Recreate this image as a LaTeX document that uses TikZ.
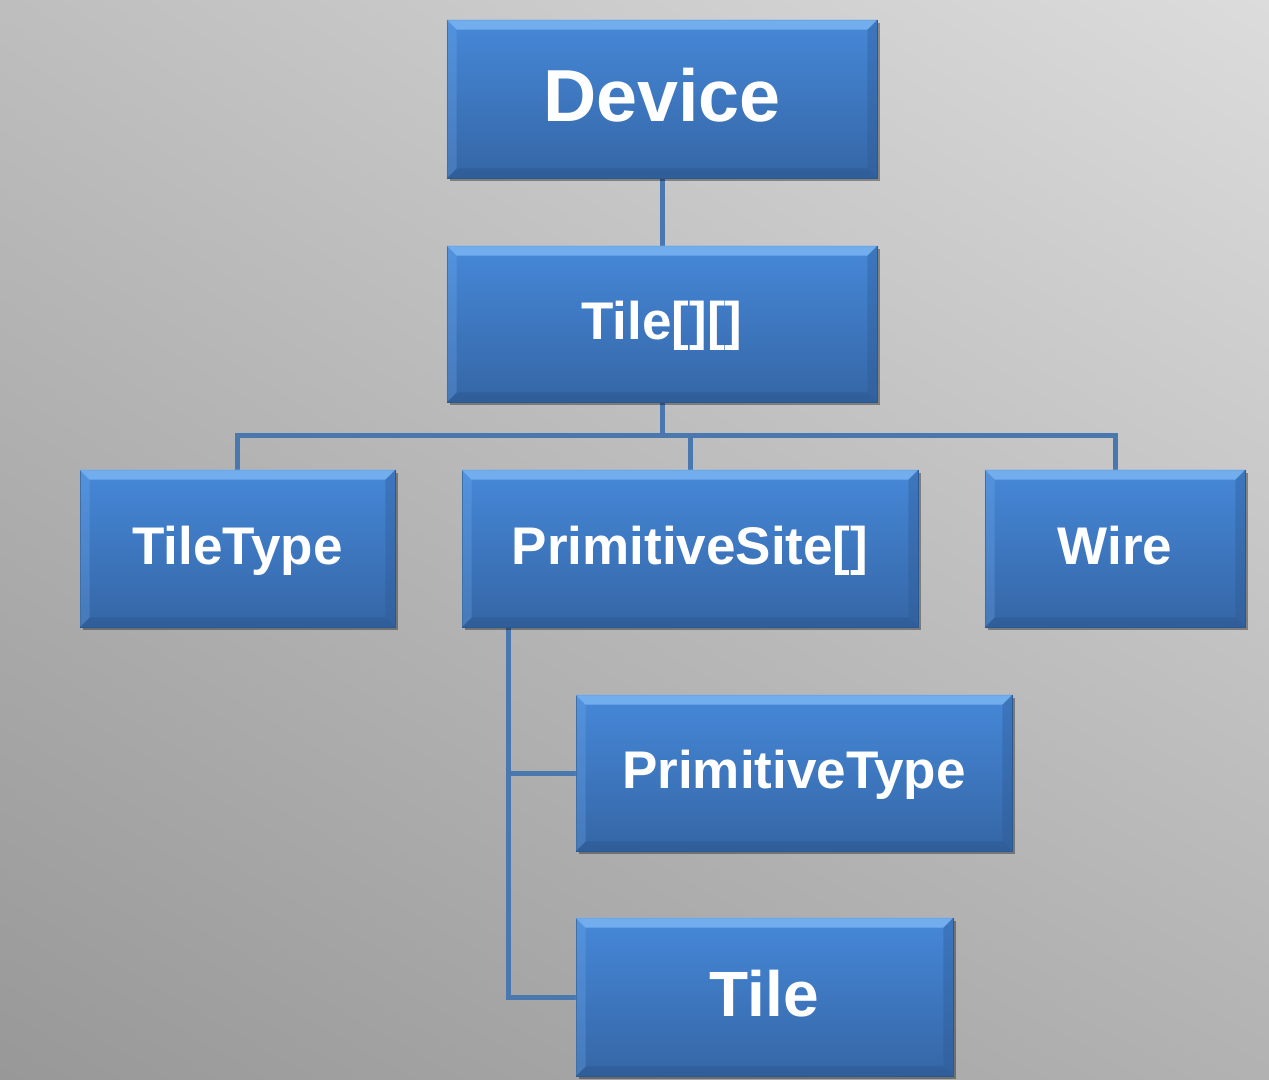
\documentclass[tikz,border=0pt]{standalone}
\usepackage{fontspec}
\setmainfont{Liberation Sans}
\usetikzlibrary{shadows,calc,shadings}
\pgfdeclarelayer{bg}
\pgfdeclarelayer{lines}
\pgfsetlayers{bg,lines,main}
\definecolor{boxtop}{HTML}{4688D8}
\definecolor{boxbot}{HTML}{3566A6}
\definecolor{bevlight}{HTML}{7AB4F2}
\definecolor{bevdark}{HTML}{2C5890}
\definecolor{linecol}{HTML}{4A77AD}
\definecolor{bgul}{HTML}{BEBEBE}
\definecolor{bgur}{HTML}{DCDCDC}
\definecolor{bgll}{HTML}{989898}
\definecolor{bglr}{HTML}{B2B2B2}
\tikzset{
  blockbox/.style={rectangle, inner sep=0pt, top color=boxtop, bottom color=boxbot,
    draw=bevdark, line width=0.6pt, text=white,
    drop shadow={shadow xshift=3pt, shadow yshift=-3pt, opacity=0.35, fill=black}},
  bigtext/.style={font=\bfseries\fontsize{73.7}{80}\selectfont, text height=53.1pt, text depth=8.8pt},
  midtext/.style={font=\bfseries\fontsize{53}{60}\selectfont, text height=38.2pt, text depth=6.4pt},
  tiletext/.style={font=\bfseries\fontsize{64}{72}\selectfont, text height=46.1pt, text depth=7.7pt},
  conn/.style={draw=linecol, line width=5pt},
}
\newcommand{\bevelit}[1]{%
  \fill[bevlight, opacity=0.85] (#1.north west) -- (#1.north east) -- ([shift={(-10,10)}]#1.north east) -- ([shift={(10,10)}]#1.north west) -- cycle;
  \fill[bevdark, opacity=0.55] (#1.south west) -- (#1.south east) -- ([shift={(-10,-10)}]#1.south east) -- ([shift={(10,-10)}]#1.south west) -- cycle;
  \fill[bevlight, opacity=0.25] (#1.north west) -- ([shift={(10,10)}]#1.north west) -- ([shift={(10,-10)}]#1.south west) -- (#1.south west) -- cycle;
  \fill[bevdark, opacity=0.35] (#1.north east) -- ([shift={(-10,10)}]#1.north east) -- ([shift={(-10,-10)}]#1.south east) -- (#1.south east) -- cycle;
}
\begin{document}
\begin{tikzpicture}[x=1pt,y=-1pt]
\useasboundingbox (0,0) rectangle (1269,1079);
\begin{pgfonlayer}{bg}
\shade[upper left=bgul, upper right=bgur, lower left=bgll, lower right=bglr] (0,0) rectangle (1269,1079);
\end{pgfonlayer}

\node[blockbox, bigtext, minimum width=430pt, minimum height=158pt] (dev) at (662,99) {Device};
\node[blockbox, midtext, minimum width=430pt, minimum height=156pt] (tarr) at (662,324) {Tile[][]};
\node[blockbox, midtext, minimum width=315pt, minimum height=157pt] (tt) at (237.5,548.5) {TileType};
\node[blockbox, midtext, minimum width=456pt, minimum height=157pt] (ps) at (690,548.5) {PrimitiveSite[]};
\node[blockbox, midtext, minimum width=260pt, minimum height=157pt] (wire) at (1115,548.5) {Wire};
\node[blockbox, midtext, minimum width=436pt, minimum height=156pt] (pt) at (794,773) {PrimitiveType};
\node[blockbox, tiletext, minimum width=377pt, minimum height=158pt] (tile) at (764.5,997) {Tile};

\foreach \n in {dev,tarr,tt,ps,wire,pt,tile} {\bevelit{\n}}

\coordinate (j) at (662,435);
\coordinate (k) at (508,627);
\begin{pgfonlayer}{lines}
\draw[conn] (dev.south) -- (tarr.north);
\draw[conn] (tarr.south) -- (j);
\draw[conn, line join=miter] (j) -| (tt.north);
\draw[conn] (j) -| (ps.north);
\draw[conn, line join=miter] (j) -| (wire.north);
\draw[conn, line join=miter] (k) |- (pt.west);
\draw[conn, line join=miter] (k) |- (tile.west);
\end{pgfonlayer}
\end{tikzpicture}
\end{document}
